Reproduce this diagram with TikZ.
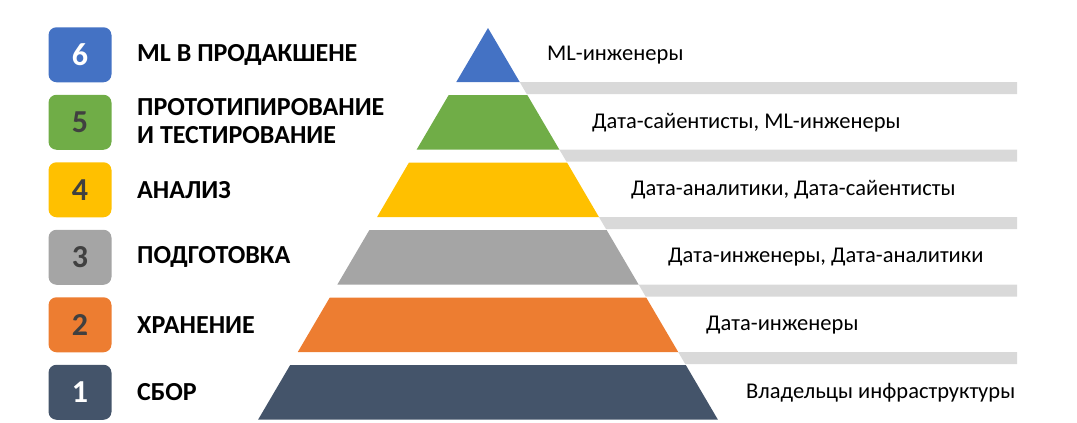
\documentclass[tikz,border=0pt]{standalone}
\usepackage{fontspec}
\setmainfont{Carlito}
\usetikzlibrary{positioning}
\definecolor{lvlblue}{HTML}{4472C4}
\definecolor{lvlgreen}{HTML}{70AD47}
\definecolor{lvlyellow}{HTML}{FFC000}
\definecolor{lvlgray}{HTML}{A5A5A5}
\definecolor{lvlorange}{HTML}{ED7D31}
\definecolor{lvlnavy}{HTML}{44546A}
\definecolor{bargray}{HTML}{D9D9D9}
\definecolor{numdark}{HTML}{404040}

\begin{document}
\begin{tikzpicture}[x=1pt, y=-1pt,
        numbox/.style={rounded corners=8pt, minimum width=63pt, minimum height=55pt, inner sep=0pt,
          font=\fontsize{32}{32}\selectfont\bfseries},
        stage/.style={anchor=west, inner sep=0pt, align=left, font=\fontsize{26}{28}\selectfont\bfseries},
        role/.style={anchor=west, inner sep=0pt, font=\fontsize{22.5}{24}\selectfont}
    ]
      \useasboundingbox (0,0) rectangle (1077,423);

      % Grey bars between the levels
      \fill[bargray] (519.7,82) -- (1017,82) -- (1017,94) -- (526.7,94) -- cycle;
      \fill[bargray] (559.3,149.5) -- (1017,149.5) -- (1017,161.5) -- (566.4,161.5) -- cycle;
      \fill[bargray] (598.9,217) -- (1017,217) -- (1017,229) -- (606.0,229) -- cycle;
      \fill[bargray] (638.6,284.5) -- (1017,284.5) -- (1017,296.5) -- (645.6,296.5) -- cycle;
      \fill[bargray] (678.2,352) -- (1017,352) -- (1017,364) -- (685.2,364) -- cycle;

      % Pyramid levels
      \fill[lvlblue] (488,28) -- (519.7,82) -- (456.3,82) -- cycle;
      \fill[lvlgreen] (448.7,95) -- (527.3,95) -- (559.3,149.5) -- (416.7,149.5) -- cycle;
      \fill[lvlyellow] (409.0,162.5) -- (567.0,162.5) -- (598.9,217) -- (377.1,217) -- cycle;
      \fill[lvlgray] (369.4,230) -- (606.6,230) -- (638.6,284.5) -- (337.4,284.5) -- cycle;
      \fill[lvlorange] (329.8,297.5) -- (646.2,297.5) -- (678.2,352) -- (297.8,352) -- cycle;
      \fill[lvlnavy] (290.2,365) -- (685.8,365) -- (717.8,419.5) -- (258.2,419.5) -- cycle;

      % Number boxes
      \node[numbox, fill=lvlblue, text=white] (box6) at (80,54.75) {6};
      \node[numbox, fill=lvlgreen, text=numdark] (box5) at (80,122.25) {5};
      \node[numbox, fill=lvlyellow, text=numdark] (box4) at (80,189.75) {4};
      \node[numbox, fill=lvlgray, text=numdark] (box3) at (80,257.25) {3};
      \node[numbox, fill=lvlorange, text=numdark] (box2) at (80,324.75) {2};
      \node[numbox, fill=lvlnavy, text=white] (box1) at (80,392.25) {1};

      % Stage names
      \node[stage] (stage6) at (137,54.75) {ML В ПРОДАКШЕНЕ};
      \node[stage] (stage5) at (137,121.5) {ПРОТОТИПИРОВАНИЕ\\И ТЕСТИРОВАНИЕ};
      \node[stage] (stage4) at (137,189.75) {АНАЛИЗ};
      \node[stage] (stage3) at (137,257.25) {ПОДГОТОВКА};
      \node[stage] (stage2) at (137,324.75) {ХРАНЕНИЕ};
      \node[stage] (stage1) at (137,392.25) {СБОР};

      % Roles
      \node[role] (role6) at (547,54.75) {ML-инженеры};
      \node[role] (role5) at (592,122.25) {Дата-сайентисты, ML-инженеры};
      \node[role] (role4) at (631,189.75) {Дата-аналитики, Дата-сайентисты};
      \node[role] (role3) at (668,257.25) {Дата-инженеры, Дата-аналитики};
      \node[role] (role2) at (706,324.75) {Дата-инженеры};
      \node[role] (role1) at (746,392.25) {Владельцы инфраструктуры};
    \end{tikzpicture}
\end{document}
